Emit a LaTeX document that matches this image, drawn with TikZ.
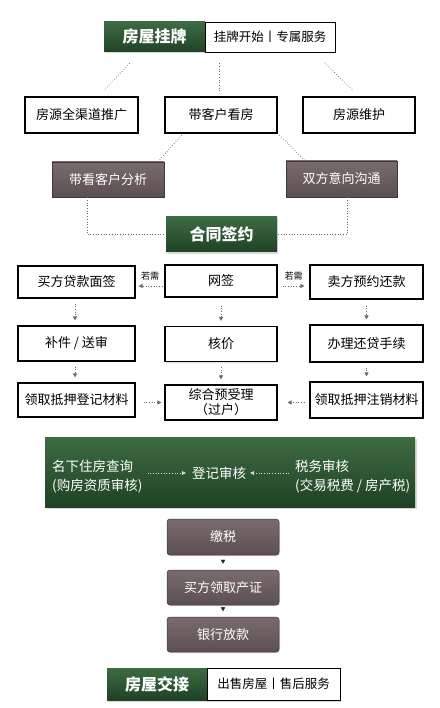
\documentclass[tikz,border=0pt]{standalone}
\usepackage{fontspec}
\newfontfamily\cjk{Noto Sans CJK SC}
\usetikzlibrary{arrows.meta,shadows}
\definecolor{hgreen}{HTML}{2B5431}
\definecolor{hgreenT}{HTML}{3D6B42}
\definecolor{hgreenB}{HTML}{1F4225}
\definecolor{gbrownT}{HTML}{7A6C6E}
\definecolor{gbrownB}{HTML}{5C4F51}
\definecolor{dotc}{HTML}{6A6A6A}
\tikzset{
  base/.style={inner sep=0pt, font=\cjk\fontsize{13}{15}\selectfont},
  wbox/.style={base, draw=black, line width=1.1pt, fill=white,
    drop shadow={shadow xshift=1.2pt, shadow yshift=-1.2pt, opacity=0.25}},
  gbox/.style={base, draw=gbrownB!70!black, line width=0.5pt, top color=gbrownT, bottom color=gbrownB, text=white,
    drop shadow={shadow xshift=1pt, shadow yshift=-1pt, opacity=0.25}},
  gnbox/.style={base, top color=hgreenT, bottom color=hgreenB, text=white,
    font=\cjk\bfseries\fontsize{16}{18}\selectfont},
  hwhite/.style={base, draw=black, line width=0.8pt, fill=white, font=\cjk\fontsize{12.5}{14}\selectfont},
  dl/.style={draw=dotc, dotted, line width=0.7pt},
  arr/.style={dl, -{Triangle[length=4pt,width=4pt]}},
  tip/.style={draw=black!85, line width=0.4pt, -{Triangle[length=4pt,width=4.5pt]}},
  lbl/.style={font=\cjk\fontsize{9}{10}\selectfont, inner sep=0pt}
}
\begin{document}
\begin{tikzpicture}[x=1pt,y=-1pt]
\useasboundingbox[fill=white] (0,0) rectangle (439,708);

% top header
\node[gnbox, minimum width=101pt, minimum height=30pt,
  drop shadow={shadow xshift=1.2pt, shadow yshift=-1.5pt, opacity=0.3}] (gua) at (154.5,37) {房屋挂牌};
\node[hwhite, minimum width=130pt, minimum height=30pt,
  drop shadow={shadow xshift=1.2pt, shadow yshift=-1.5pt, opacity=0.3}] (guaR) at (270,37) {挂牌开始丨专属服务};

% row 1
\node[wbox, minimum width=113pt, minimum height=36pt] (tui) at (81.5,115) {房源全渠道推广};
\node[wbox, minimum width=112pt, minimum height=36pt] (kan) at (221,115) {带客户看房};
\node[wbox, minimum width=112pt, minimum height=36pt] (wei) at (359,115) {房源维护};

\draw[dl, shorten <=15pt, shorten >=9pt] ([xshift=-14.5pt]gua.south) -- ([xshift=17pt]tui.north);
\draw[dl, shorten <=11pt, shorten >=4pt] ([xshift=-51pt]guaR.south) -- ([xshift=-2pt]kan.north);
\draw[dl, shorten <=15pt, shorten >=9pt] ([xshift=44pt]guaR.south) -- (wei.north);

% gray row
\node[gbox, minimum width=112pt, minimum height=35pt] (fenxi) at (108,179.5) {带看客户分析};
\node[gbox, minimum width=111pt, minimum height=36pt] (goutong) at (341.5,179) {双方意向沟通};
\draw[dl, shorten <=2pt] ([xshift=-38pt]kan.south) -- ([xshift=50pt]fenxi.north);
\draw[dl, shorten <=2pt] ([xshift=57pt]kan.south) -- ([xshift=-36.5pt]goutong.north);

% contract
\node[gnbox, minimum width=111pt, minimum height=35pt,
  drop shadow={shadow xshift=1.2pt, shadow yshift=-1.5pt, opacity=0.3}] (hetong) at (221.5,234.5) {合同签约};
\draw[dl] ([xshift=-21pt]fenxi.south) |- (hetong.west);
\draw[dl] ([xshift=5.5pt]goutong.south) |- (hetong.east);

% grid rows
\node[wbox, minimum width=117pt, minimum height=32pt] (mq) at (76.5,282) {买方贷款面签};
\node[wbox, minimum width=112pt, minimum height=32pt] (wq) at (221,281) {网签};
\node[wbox, minimum width=113pt, minimum height=34pt] (yy) at (366.5,282) {卖方预约还款};

\node[wbox, minimum width=117pt, minimum height=35pt] (bj) at (76.5,343.5) {补件 / 送审};
\node[wbox, minimum width=112pt, minimum height=35pt] (hj) at (221,344) {核价};
\node[wbox, minimum width=113pt, minimum height=37pt] (hd) at (366.5,343.5) {办理还贷手续};

\node[wbox, minimum width=117pt, minimum height=34pt] (dj) at (76.5,400) {领取抵押登记材料};
\node[wbox, minimum width=112pt, minimum height=35pt, align=center,
  font=\cjk\fontsize{13}{15}\selectfont] (zh) at (221,402.5) {综合预受理\\（过户）};
\node[wbox, minimum width=113pt, minimum height=36pt] (zx) at (366.5,400) {领取抵押注销材料};

\draw[arr, shorten <=2pt, shorten >=3pt] ([yshift=-5pt]wq.west) -- ([yshift=-5pt]mq.east |- wq.west) node[lbl, midway, above=5pt] {若需};
\draw[arr, shorten <=5pt, shorten >=5pt] ([yshift=-5pt]wq.east) -- ([yshift=-5pt]yy.west |- wq.east) node[lbl, midway, above=5pt] {若需};

\draw[arr, shorten <=5pt, shorten >=5pt] ([xshift=-1.5pt]mq.south) -- ([xshift=-1.5pt]bj.north);
\draw[arr, shorten <=5pt, shorten >=5pt] ([xshift=-1.5pt]bj.south) -- ([xshift=-1.5pt]dj.north);
\draw[arr, shorten <=8pt, shorten >=5pt] (wq.south) -- (hj.north);
\draw[arr, shorten <=5pt, shorten >=5pt] (hj.south) -- (zh.north);
\draw[arr, shorten <=6pt, shorten >=5pt] (yy.south) -- (hd.north);
\draw[arr, shorten <=5pt, shorten >=5pt] (hd.south) -- (zx.north);
\draw[arr, shorten <=8pt, shorten >=3pt] (dj.east |- zh.west) -- (zh.west);
\draw[arr, shorten <=5pt, shorten >=10pt] (zx.west |- zh.east) -- (zh.east);

% big green panel
\node[base, top color=hgreenT, bottom color=hgreenB, minimum width=370pt, minimum height=70pt,
  drop shadow={shadow xshift=1.5pt, shadow yshift=-2pt, opacity=0.3}] (panel) at (230,472) {};
\node[base, text=white, align=left, anchor=west, font=\cjk\fontsize{13.5}{19}\selectfont] (mx) at (52,477) {名下住房查询\\(购房资质审核)};
\node[base, text=white, font=\cjk\fontsize{13.5}{15}\selectfont] (djsh) at (219,473) {登记审核};
\node[base, text=white, align=left, anchor=west, font=\cjk\fontsize{13.5}{19}\selectfont] (sw) at (295,477) {税务审核\\(交易税费 / 房产税)};
\draw[arr, draw=white!85!black, shorten <=5pt, shorten >=6pt] (mx.east |- djsh.west) -- (djsh.west);
\draw[arr, draw=white!85!black, shorten <=6pt, shorten >=4pt] (sw.west |- djsh.east) -- (djsh.east);

% bottom gray sequence
\node[gbox, rounded corners=3pt, minimum width=112pt, minimum height=36pt] (js) at (223,537) {缴税};
\node[gbox, rounded corners=3pt, minimum width=112pt, minimum height=35pt] (cz) at (223,587.5) {买方领取产证};
\node[gbox, rounded corners=3pt, minimum width=112pt, minimum height=35pt] (fk) at (223,634.5) {银行放款};
\draw[tip, shorten <=5pt, shorten >=6pt] (js.south) -- (cz.north);
\draw[tip, shorten <=1.5pt, shorten >=5.5pt] (cz.south) -- (fk.north);

% bottom header
\node[gnbox, minimum width=100pt, minimum height=32pt,
  drop shadow={shadow xshift=1.2pt, shadow yshift=-1.5pt, opacity=0.3}] (jj) at (157,684) {房屋交接};
\node[hwhite, minimum width=133pt, minimum height=32pt,
  drop shadow={shadow xshift=1.2pt, shadow yshift=-1.5pt, opacity=0.3}] (jjR) at (273.5,684) {出售房屋丨售后服务};
\end{tikzpicture}
\end{document}
